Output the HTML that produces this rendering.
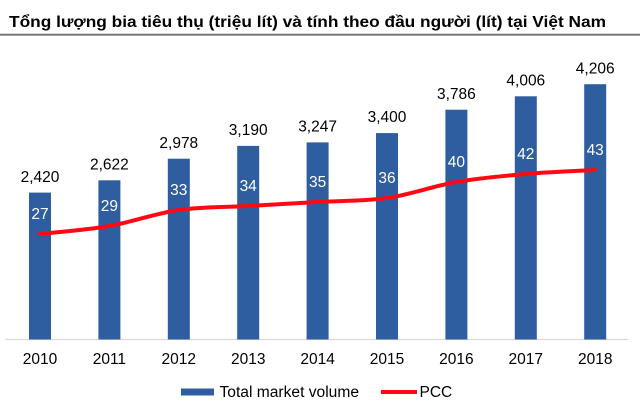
<!DOCTYPE html>
<html>
<head>
<meta charset="utf-8">
<style>
html,body{margin:0;padding:0;background:#fff;}
svg{display:block;}
text{font-family:"Liberation Sans",Arial,sans-serif;}
</style>
</head>
<body>
<svg width="640" height="406" viewBox="0 0 640 406" xmlns="http://www.w3.org/2000/svg">
<rect width="640" height="406" fill="#fff"/>
<!-- title -->
<text x="9" y="27" font-size="16" font-weight="bold" fill="#000" textLength="597" lengthAdjust="spacingAndGlyphs">Tổng lượng bia tiêu thụ (triệu lít) và tính theo đầu người (lít) tại Việt Nam</text>
<rect x="0" y="33.7" width="640" height="2" fill="#767676"/>

<!-- axis -->
<line x1="5" y1="339.5" x2="628" y2="339.5" stroke="#d9d9d9" stroke-width="1.2"/>

<!-- bars -->
<g fill="#2E5E9F">
<rect x="29" y="192.6" width="22" height="146.9"/>
<rect x="98.4" y="180.3" width="22" height="159.2"/>
<rect x="167.8" y="158.7" width="22" height="180.8"/>
<rect x="237.2" y="145.9" width="22" height="193.6"/>
<rect x="306.6" y="142.4" width="22" height="197.1"/>
<rect x="376" y="133.1" width="22" height="206.4"/>
<rect x="445.4" y="109.7" width="22" height="229.8"/>
<rect x="514.8" y="96.3" width="22" height="243.2"/>
<rect x="584.2" y="84.2" width="22" height="255.3"/>
</g>

<!-- value labels -->
<g font-size="15.5" fill="#000" text-anchor="middle">
<text x="40" y="182">2,420</text>
<text x="109.4" y="169.5">2,622</text>
<text x="178.8" y="148">2,978</text>
<text x="248.2" y="135">3,190</text>
<text x="317.6" y="131.5">3,247</text>
<text x="387" y="122.2">3,400</text>
<text x="456.4" y="98.8">3,786</text>
<text x="525.8" y="85.4">4,006</text>
<text x="595.2" y="73.3">4,206</text>
</g>

<!-- PCC line -->
<path d="M40,234 C51.57,232.67 86.27,230 109.4,226 C132.53,222 155.67,213.33 178.8,210 C201.93,206.67 225.07,207.33 248.2,206 C271.33,204.67 294.47,203.33 317.6,202 C340.73,200.67 363.87,201.33 387,198 C410.13,194.67 433.27,186 456.4,182 C479.53,178 502.67,176 525.8,174 C548.93,172 583.63,170.67 595.2,170" fill="none" stroke="#FF0A14" stroke-width="4" stroke-linecap="round" stroke-linejoin="round"/>

<!-- PCC labels -->
<g font-size="15.5" fill="#fff" text-anchor="middle">
<text x="40" y="219">27</text>
<text x="109.4" y="211">29</text>
<text x="178.8" y="195">33</text>
<text x="248.2" y="191">34</text>
<text x="317.6" y="187">35</text>
<text x="387" y="183">36</text>
<text x="456.4" y="167">40</text>
<text x="525.8" y="159">42</text>
<text x="595.2" y="155">43</text>
</g>

<!-- years -->
<g font-size="15.5" fill="#000" text-anchor="middle">
<text x="40" y="364">2010</text>
<text x="109.4" y="364">2011</text>
<text x="178.8" y="364">2012</text>
<text x="248.2" y="364">2013</text>
<text x="317.6" y="364">2014</text>
<text x="387" y="364">2015</text>
<text x="456.4" y="364">2016</text>
<text x="525.8" y="364">2017</text>
<text x="595.2" y="364">2018</text>
</g>

<!-- legend -->
<rect x="181" y="388.5" width="33" height="7" fill="#2E5E9F"/>
<text x="219.5" y="397" font-size="15.5" fill="#000" textLength="139.5" lengthAdjust="spacingAndGlyphs">Total market volume</text>
<line x1="381" y1="392" x2="417" y2="392" stroke="#FF0A14" stroke-width="4"/>
<text x="419.5" y="397" font-size="15.5" fill="#000">PCC</text>
</svg>
</body>
</html>
